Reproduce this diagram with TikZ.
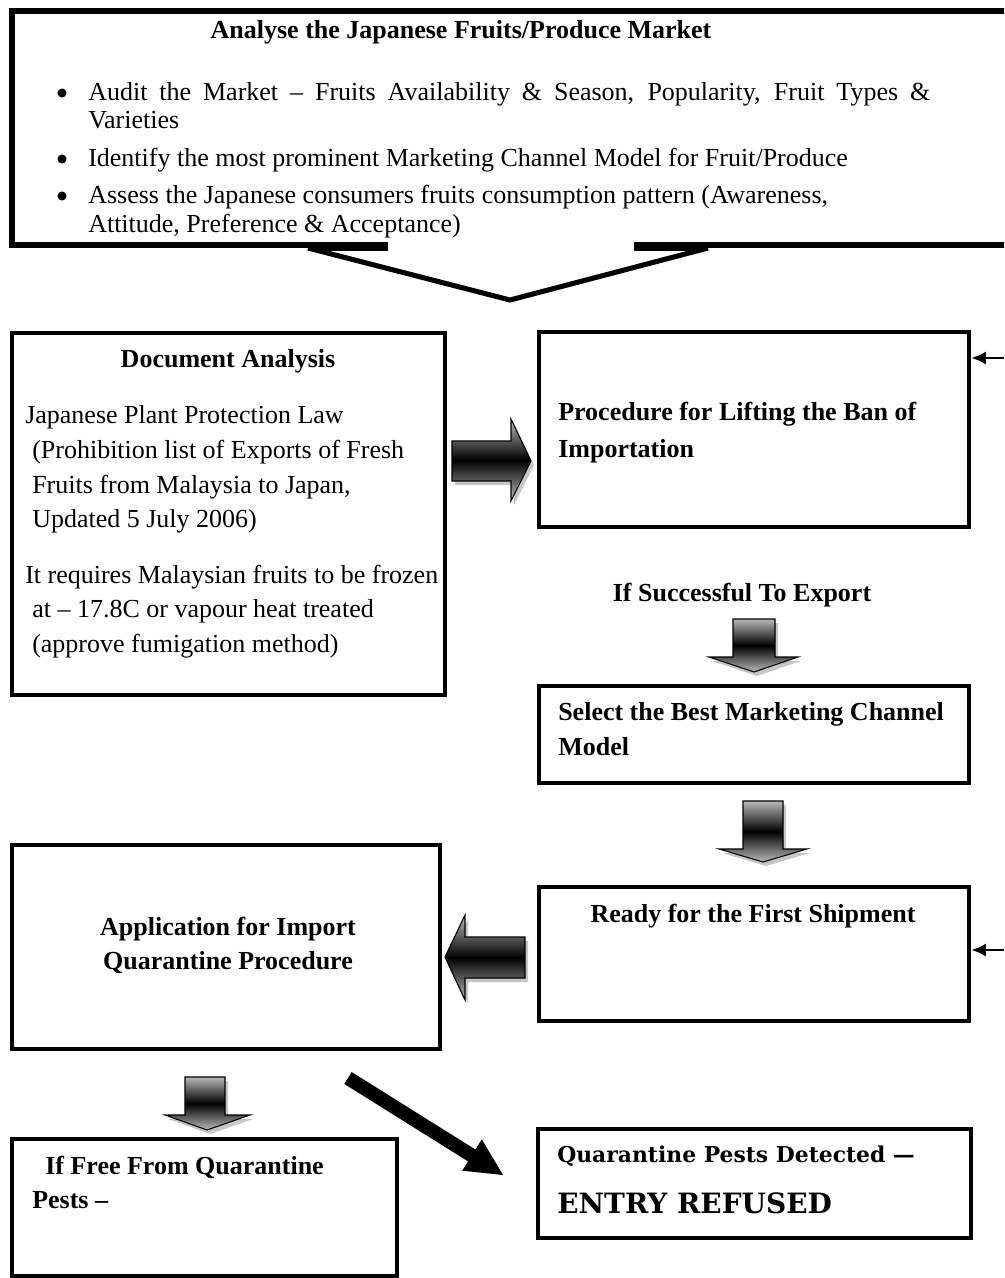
\documentclass[tikz,border=0pt]{standalone}
\usepackage{fontspec}
\setmainfont{Liberation Serif}
\newfontfamily\slab{DejaVu Serif}
\usetikzlibrary{arrows.meta,fit,calc}
\begin{document}
\begin{tikzpicture}[x=0.75pt,y=-0.75pt,
  box/.style={draw, line width=3.4pt, inner sep=0pt},
  t/.style={inner sep=0pt, anchor=base west, font=\fontsize{19.5}{23}\selectfont},
  tb/.style={t, font=\fontsize{19.5}{23}\selectfont\bfseries},
  tbc/.style={tb, anchor=base},
  bul/.style={circle, fill=black, inner sep=0pt, minimum size=6.8pt},
  blk/.style={top color=gray!55, bottom color=gray!55, middle color=black, draw=black, line width=0.8pt},
  shd/.style={fill=gray!45, draw=none},
  thinarrow/.style={line width=2.2pt, -{Latex[length=11pt,width=10pt]}}
]
\useasboundingbox (0,0) rectangle (1004,1278);
\clip (0,0) rectangle (1004,1278);

% ---------- top callout box ----------
\node[inner sep=0pt, fit={(12,11)(1010,245)}] (market) {};
\draw[line width=3.8pt, line join=miter] (388,245) -- (12,245) -- (12,11) -- (1015,11) -- (1015,245) -- (634,245);
\draw[line width=3.8pt] (308,248) -- (388,248);
\draw[line width=3.8pt] (634,248) -- (708,248);
\draw[line width=3.8pt, line join=miter] (308,248) -- (510,300) -- (708,248);

\node[tbc] (mh) at (461,38) {Analyse the Japanese Fruits/Produce Market};
\node[bul] (bu1) at (62,93) {};
\node[bul] (bu2) at (62,159) {};
\node[bul] (bu3) at (62,196) {};
\node[t] (m1) at (88,100) {\makebox[631.5pt][s]{Audit the Market – Fruits Availability \& Season, Popularity, Fruit Types \&}};
\node[t] (m2) at (88,128) {Varieties};
\node[t] (m3) at (88,166) {Identify the most prominent Marketing Channel Model for Fruit/Produce};
\node[t] (m4) at (88,203) {Assess the Japanese consumers fruits consumption pattern (Awareness,};
\node[t] (m5) at (88,232) {Attitude, Preference \& Acceptance)};

% ---------- Document analysis ----------
\node[box, fit={(12,333)(445,695)}] (doc) {};
\node[tbc] (dh) at (228,367) {Document Analysis};
\node[t] (d1) at (25,423) {Japanese Plant Protection Law};
\node[t] (d2) at (32,458) {(Prohibition list of Exports of Fresh};
\node[t] (d3) at (32,493) {Fruits from Malaysia to Japan,};
\node[t] (d4) at (32,527) {Updated 5 July 2006)};
\node[t] (d5) at (25,583) {It requires Malaysian fruits to be frozen};
\node[t] (d6) at (32,617) {at – 17.8C or vapour heat treated};
\node[t] (d7) at (32,652) {(approve fumigation method)};

% ---------- Procedure ----------
\node[box, fit={(539,332)(969,527)}] (proc) {};
\node[tb] (p1) at (558,420) {Procedure for Lifting the Ban of};
\node[tb] (p2) at (558,457) {Importation};

\node[tbc] (succ) at (742,601) {If Successful To Export};

% ---------- Select ----------
\node[box, fit={(539,686)(969,783)}] (sel) {};
\node[tb] (s1) at (558,720) {Select the Best Marketing Channel};
\node[tb] (s2) at (558,755) {Model};

% ---------- Ready ----------
\node[box, fit={(539,887)(969,1021)}] (ready) {};
\node[tbc] (r1) at (753,922) {Ready for the First Shipment};

% ---------- Application ----------
\node[box, fit={(12,845)(440,1049)}] (app) {};
\node[tbc] (a1) at (228,935) {Application for Import};
\node[tbc] (a2) at (228,969) {Quarantine Procedure};

% ---------- Free ----------
\node[box, fit={(12,1139)(397,1276)}] (free) {};
\node[tb] (f1) at (45,1174) {If Free From Quarantine};
\node[tb] (f2) at (32,1208) {Pests –};

% ---------- Quarantine detected ----------
\node[box, fit={(538,1129)(971,1238)}] (quar) {};
\node[inner sep=0pt, anchor=base west, font=\slab\bfseries\fontsize{16.4}{19}\selectfont] (q1) at (557,1162) {Quarantine Pests Detected —};
\node[inner sep=0pt, anchor=base west, font=\slab\bfseries\fontsize{21}{25}\selectfont] (q2) at (557,1213) {ENTRY REFUSED};

% ---------- block arrows ----------
% doc -> proc
\fill[shd, shift={(3,4)}] (452,441) -- (511,441) -- (511,419) -- (531,461) -- (511,501) -- (511,481) -- (452,481) -- cycle;
\path[blk] (452,441) -- (511,441) -- (511,419) -- (531,461) -- (511,501) -- (511,481) -- (452,481) -- cycle;
% proc -> sel
\fill[shd, shift={(3,4)}] (733,619) -- (775,619) -- (775,657) -- (798,657) -- (754,672) -- (709,657) -- (733,657) -- cycle;
\path[blk] (733,619) -- (775,619) -- (775,657) -- (798,657) -- (754,672) -- (709,657) -- (733,657) -- cycle;
% sel -> ready
\fill[shd, shift={(3,4)}] (743,801) -- (783,801) -- (783,849) -- (807,849) -- (763,862) -- (719,849) -- (743,849) -- cycle;
\path[blk] (743,801) -- (783,801) -- (783,849) -- (807,849) -- (763,862) -- (719,849) -- (743,849) -- cycle;
% ready -> app
\fill[shd, shift={(3,4)}] (525,937) -- (465,937) -- (465,915) -- (445,957) -- (465,1000) -- (465,978) -- (525,978) -- cycle;
\path[blk] (525,937) -- (465,937) -- (465,915) -- (445,957) -- (465,1000) -- (465,978) -- (525,978) -- cycle;
% app -> free
\fill[shd, shift={(3,4)}] (185,1077) -- (225,1077) -- (225,1115) -- (250,1115) -- (207,1130) -- (165,1115) -- (185,1115) -- cycle;
\path[blk] (185,1077) -- (225,1077) -- (225,1115) -- (250,1115) -- (207,1130) -- (165,1115) -- (185,1115) -- cycle;

% app -> quar (diagonal)
\coordinate (dgs) at (348,1078);
\coordinate (dgt) at (503,1175);
\draw[line width=10.5pt] (dgs) -- ($(dgs)!0.82!(dgt)$);
\fill (dgt) -- (462.2,1170.7) -- (481.8,1139.3) -- cycle;

% ---------- thin incoming arrows ----------
\coordinate (in1) at (1012,358);
\coordinate (in2) at (1012,950);
\draw[thinarrow] (in1) -- (proc.east |- in1);
\draw[thinarrow] (in2) -- (ready.east |- in2);
\end{tikzpicture}
\end{document}
